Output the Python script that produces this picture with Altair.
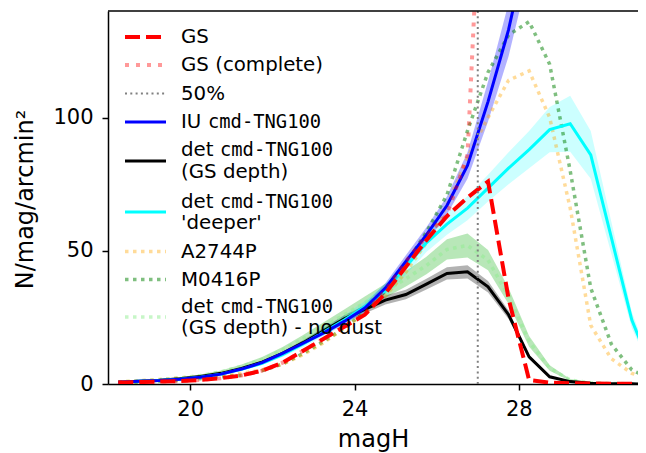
import altair as alt
import pandas as pd

# ---- data ----
mag = [18.25, 18.75, 19.25, 19.75, 20.25, 20.75, 21.25, 21.75, 22.25, 22.75,
       23.25, 23.75, 24.25, 24.75, 25.25, 25.75, 26.25, 26.75, 27.25, 27.75,
       28.25, 28.75, 29.25, 29.75, 30.25, 30.75, 31.25]

gs = [0.6, 0.7, 0.9, 1.1, 1.5, 2.2, 3.2, 5.0, 8.0, 12.5, 17, 21.5, 26, 34, 44,
      54, 63, 70, 76, 32, 1.5, 0.5, 0.3, 0.2, 0.1, 0.1, 0.1]
gs_complete = [0.6, 0.7, 0.9, 1.1, 1.5, 2.2, 3.2, 5.0, 8.0, 12.5, 17, 21.5, 26.5,
               35, 46, 55.5, 63.5, 86, 250, None, None, None, None, None, None, None, None]
iu = [0.7, 1.0, 1.3, 1.8, 2.5, 3.7, 5.6, 8.0, 11.5, 15.3, 19.2, 23.5, 28.5, 36, 46,
      56, 67, 82, 106, 133, 168, None, None, None, None, None, None]
iu_err = [0.1, 0.1, 0.1, 0.15, 0.2, 0.25, 0.3, 0.4, 0.5, 0.7, 0.9, 1.1, 1.4, 1.8, 2.3,
          2.8, 3.4, 5, 7.5, 10, 13, None, None, None, None, None, None]
det = [0.7, 1.0, 1.4, 2.0, 2.8, 4.0, 5.8, 8.2, 11.5, 15.5, 20, 24.5, 28, 31.5, 33.6,
       37.5, 41.5, 42.1, 36.5, 26, 10.2, 2.7, 0.9, 0.3, 0.1, 0.05, 0.02]
det_err = [0.1, 0.1, 0.15, 0.2, 0.25, 0.3, 0.4, 0.5, 0.7, 0.9, 1.1, 1.3, 1.5, 1.7, 1.8,
           2.0, 2.3, 2.5, 2.2, 1.6, 0.8, 0.3, 0.1, 0.05, 0, 0, 0]
deep = [0.7, 1.0, 1.3, 1.8, 2.5, 3.7, 5.5, 7.8, 11, 15, 19.5, 24, 29, 35, 44, 53, 60,
        66, 73.5, 81, 88, 95.5, 97.7, 86, 55, 24, 5]
deep_err = [0.1, 0.1, 0.15, 0.2, 0.3, 0.4, 0.5, 0.7, 0.9, 1.2, 1.5, 1.8, 2.1, 2.5, 3,
            3.5, 4, 4.5, 5, 6, 7, 8.5, 10.5, 9, 6, 3, 1]
a2744 = [0.8, 1.2, 1.7, 2.3, 2.8, 3.3, 4.0, 5.3, 7.5, 11, 15.5, 21, 26.5, 33, 42, 53,
         67, 85, 100, 114, 117.5, 100, 66, 22, 9.5, 4, 1.5]
m0416 = [0.5, 0.7, 1.0, 1.4, 2.0, 2.7, 3.3, 5.0, 7.5, 11.5, 16, 21, 27, 35, 45, 57,
         71, 95, 117, 131, 136, 120, 80, 36, 15, 5.3, 1.5]
nodust = [0.8, 1.1, 1.6, 2.3, 3.2, 4.6, 6.6, 9.2, 12.8, 17, 21.5, 26, 30.5, 35, 39.5,
          44.5, 50.5, 52, 46.5, 33, 16, 6, 1.5, 0.5, 0.2, 0.1, 0]
nodust_err = [0.1, 0.15, 0.2, 0.3, 0.4, 0.5, 0.7, 0.9, 1.1, 1.4, 1.7, 2.0, 2.3, 2.6,
              2.9, 3.3, 3.8, 4.5, 3.8, 3, 2, 1, 0.4, 0.2, 0.1, 0, 0]
completeness_50 = [27.0]

x_ticks = [20, 24, 28]
y_ticks = [0, 50, 100]

W, H = 530, 373
FONT = "DejaVu Sans"
MONO = "DejaVu Sans Mono"

df = pd.DataFrame({"mag": mag, "gs": gs, "gsc": gs_complete, "iu": iu, "det": det,
                   "deep": deep, "a2744": a2744, "m0416": m0416, "nodust": nodust})
def band(v, e):
    lo, hi = [], []
    for a, b in zip(v, e):
        if a is None or b is None:
            lo.append(None); hi.append(None)
        else:
            lo.append(a - b); hi.append(a + b)
    return lo, hi
df["iu_lo"], df["iu_hi"] = band(iu, iu_err)
df["det_lo"], df["det_hi"] = band(det, det_err)
df["deep_lo"], df["deep_hi"] = band(deep, deep_err)
df["nd_lo"], df["nd_hi"] = band(nodust, nodust_err)

xs = alt.Scale(domain=[18, 30.9], nice=False, zero=False)
ys = alt.Scale(domain=[0, 140], nice=False)
X = alt.X("mag:Q", scale=xs, title="magH",
          axis=alt.Axis(values=x_ticks, titleY=62, titleBaseline="alphabetic"))
def Y(f):
    return alt.Y(f + ":Q", scale=ys, title="N/mag/arcmin²",
                 axis=alt.Axis(values=y_ticks, titleX=-83, titleY=188, titleAngle=270,
                               titleBaseline="middle", titleAlign="center"))

base = alt.Chart(df)
def area(lo, hi, color, op):
    return base.mark_area(color=color, opacity=op, clip=True).encode(
        x=X, y=Y(lo), y2=alt.Y2(hi + ":Q"))
def line(f, color, width, dash=None, op=1.0):
    kw = dict(color=color, strokeWidth=width, opacity=op, clip=True, strokeCap="butt")
    if dash:
        kw["strokeDash"] = dash
    return base.mark_line(**kw).encode(x=X, y=Y(f))

layers = [
    area("nd_lo", "nd_hi", "#33bb33", 0.35),
    area("det_lo", "det_hi", "black", 0.3),
    area("iu_lo", "iu_hi", "blue", 0.3),
    area("deep_lo", "deep_hi", "cyan", 0.2),
    line("m0416", "green", 3.5, [3.5, 4.5], 0.5),
    line("a2744", "orange", 3.5, [3.5, 4.5], 0.4),
    line("nodust", "#90ee90", 3.5, [3.5, 4.5], 0.5),
    line("det", "black", 3),
    line("deep", "cyan", 3),
    line("iu", "blue", 3),
    line("gsc", "red", 4, [4, 7], 0.4),
    line("gs", "red", 4, [15, 6]),
]
vline = alt.Chart(pd.DataFrame({"m": completeness_50})).mark_rule(
    color="gray", strokeWidth=2, strokeDash=[2, 3.3]).encode(
    x=alt.X("m:Q", scale=xs), y=alt.value(0), y2=alt.value(H))
layers.append(vline)

one = pd.DataFrame({"a": [0]})
top = alt.Chart(one).mark_rule(color="black", strokeWidth=1.5).encode(
    x=alt.value(0), x2=alt.value(W + 10), y=alt.value(0))
layers.append(top)

# ---- legend ----
def handle(y, color, width, dash=None, op=1.0):
    kw = dict(color=color, strokeWidth=width, opacity=op, strokeCap="butt")
    if dash:
        kw["strokeDash"] = dash
    return alt.Chart(one).mark_rule(**kw).encode(
        x=alt.value(17), x2=alt.value(58), y=alt.value(y))
def text(s, x, y, font=FONT, size=19.8):
    return alt.Chart(one).mark_text(align="left", baseline="middle", font=font,
                                    fontSize=size, color="black").encode(
        x=alt.value(x), y=alt.value(y), text=alt.value(s))
def mono(s, x, y):
    return text(s, x, y, MONO, 18.8)

TX = 73
layers += [
    handle(26, "red", 4, [15, 6]), text("GS", TX, 26),
    handle(54, "red", 4, [4, 7], 0.4), text("GS (complete)", TX, 54),
    handle(82.5, "gray", 2, [2, 3.3]), text("50%", TX, 82.5),
    handle(111, "blue", 3), text("IU", TX, 111), mono("cmd-TNG100", 100, 111),
    handle(150, "black", 3), text("det", TX, 139), mono("cmd-TNG100", 112, 139),
    text("(GS depth)", TX, 161),
    handle(201, "cyan", 3), text("det", TX, 190.5), mono("cmd-TNG100", 112, 190.5),
    text("'deeper'", TX, 212),
    handle(240.5, "orange", 3.5, [3.5, 4.5], 0.4), text("A2744P", TX, 240.5),
    handle(268.5, "green", 3.5, [3.5, 4.5], 0.5), text("M0416P", TX, 268.5),
    handle(306, "#90ee90", 3.5, [3.5, 4.5], 0.5), text("det", TX, 295.5),
    mono("cmd-TNG100", 112, 295.5), text("(GS depth) - no dust", TX, 317),
]

chart = alt.layer(*layers).properties(
    width=W, height=H,
    padding={"left": 100, "top": 3, "right": 0, "bottom": 72},
    autosize=alt.AutoSizeParams(type="none"),
    background="white",
).configure_view(stroke=None).configure_axis(
    grid=False, labelFont=FONT, labelFontSize=21, labelColor="black",
    titleFont=FONT, titleFontSize=24, titleFontWeight="normal", titleColor="black",
    domainColor="black", domainWidth=1.5, tickColor="black", tickWidth=1.5,
    tickSize=6, labelPadding=8,
).configure_axisY(labelPadding=9)

chart.save("out.html", embed_options={"renderer": "svg", "actions": False})
